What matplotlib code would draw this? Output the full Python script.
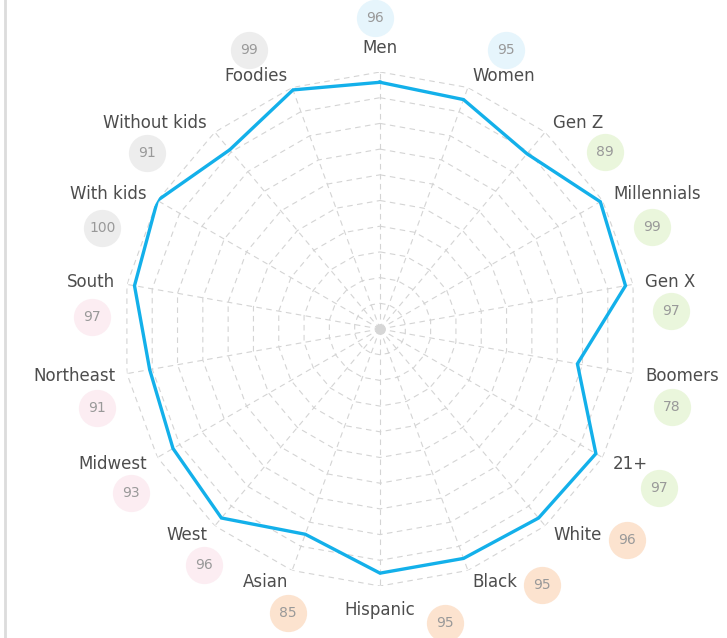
import numpy as np
import matplotlib
matplotlib.use("Agg")
import matplotlib.pyplot as plt

# ---- data ----
categories = ["Men", "Women", "Gen Z", "Millennials", "Gen X", "Boomers", "21+",
              "White", "Black", "Hispanic", "Asian", "West", "Midwest", "Northeast",
              "South", "With kids", "Without kids", "Foodies"]
values = [96, 95, 89, 99, 97, 78, 97, 96, 95, 95, 85, 96, 93, 91, 97, 100, 91, 99]
groups = ["gender", "gender", "age", "age", "age", "age", "age",
          "eth", "eth", "eth", "eth", "region", "region", "region", "region",
          "life", "life", "life"]
ring_levels = [10, 20, 30, 40, 50, 60, 70, 80, 90, 100]

# ---- layout / style ----
group_colors = {"gender": "#e6f5fc", "age": "#eaf6dc", "eth": "#fce3cf",
                "region": "#fcedf2", "life": "#ededed"}
# badge positions: (angle in degrees clockwise from top, radius in axis units)
badge_pos = [(-0.9, 121), (24.3, 119), (51.8, 111.5), (69.5, 113), (86.5, 113.5),
             (105, 117.5), (119.6, 125), (130.5, 126.5), (147.7, 118), (167.5, 117),
             (198, 116), (216.7, 114.5), (236.6, 116), (254.4, 114.5), (272.4, 112),
             (290, 115), (307, 113.5), (334.8, 120)]
label_r = 104.7

W, H = 727, 638
fig = plt.figure(figsize=(W / 100, H / 100), dpi=100)
cx, cy, R = 380, 329, 257
ax = fig.add_axes([(cx - R) / W, (H - cy - R) / H, 2 * R / W, 2 * R / H],
                  projection="polar")
ax.set_theta_zero_location("N")
ax.set_theta_direction(-1)
ax.set_ylim(0, 100)
ax.axis("off")

n = len(categories)
theta = np.arange(n) * 2 * np.pi / n
grid_col = "#d4d4d4"

# polygon rings
closed_t = np.append(theta, theta[0])
for lv in ring_levels:
    ax.plot(closed_t, [lv] * (n + 1), color=grid_col, lw=0.8,
            ls=(0, (5, 4)), zorder=1)
# spokes
for t in theta:
    ax.plot([t, t], [0, 100], color=grid_col, lw=0.8, ls=(0, (5, 4)), zorder=1)
ax.scatter([0], [0], s=45, color="#d6d6d6", zorder=2)

# data line
vals = np.append(values, values[0])
ax.plot(closed_t, vals, color="#13b0ea", lw=2.4, zorder=5, solid_joinstyle="miter")

# category labels
for t, cat in zip(theta, categories):
    deg = np.degrees(t) % 360
    if np.isclose(deg, 0):
        ax.text(t, label_r + 4.5, cat, ha="center", va="center", fontsize=12, color="#4d4d4d")
    elif np.isclose(deg, 180):
        ax.text(t, label_r + 4.5, cat, ha="center", va="center", fontsize=12, color="#4d4d4d")
    elif deg < 180:
        ax.text(t, label_r, cat, ha="left", va="center", fontsize=12, color="#4d4d4d")
    else:
        ax.text(t, label_r, cat, ha="right", va="center", fontsize=12, color="#4d4d4d")

# value badges
for (bd, br), v, g in zip(badge_pos, values, groups):
    bt = np.radians(bd)
    ax.scatter([bt], [br], s=720, color=group_colors[g], zorder=3, clip_on=False,
               linewidths=0)
    ax.text(bt, br, str(v), ha="center", va="center", fontsize=10, color="#999999",
            zorder=4)

# left border line
fig.add_artist(plt.Line2D([5 / W, 5 / W], [0, 1], color="#dcdcdc", lw=2,
                          transform=fig.transFigure))

fig.savefig("out.png", dpi=100, facecolor="white")
